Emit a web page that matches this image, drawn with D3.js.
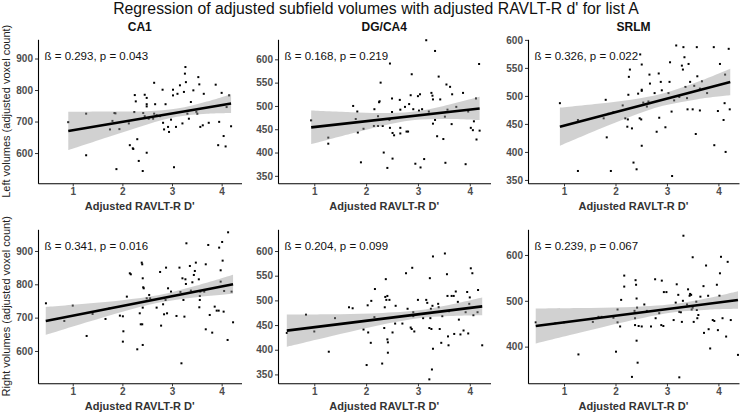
<!DOCTYPE html>
<html><head><meta charset="utf-8">
<script src="https://cdn.jsdelivr.net/npm/d3@7"></script>
<style>
body{margin:0;background:#fff;}
svg text{font-family:"Liberation Sans",Arial,sans-serif;}
</style></head>
<body><svg id="chart" width="741" height="415"></svg>
<script>
// ---------- data ----------
const mainTitle = "Regression of adjusted subfield volumes with adjusted RAVLT-R d' for list A";
const colTitles = ["CA1", "DG/CA4", "SRLM"];
const rowTitles = ["Left volumes (adjusted voxel count)", "Right volumes (adjusted voxel count)"];
const xTitle = "Adjusted RAVLT-R D'";
const xTicks = [1, 2, 3, 4];
const xDomain = [0.3, 4.4];
const statLabels = [
  "ß = 0.293, p = 0.043", "ß = 0.168, p = 0.219", "ß = 0.326, p = 0.022",
  "ß = 0.341, p = 0.016", "ß = 0.204, p = 0.099", "ß = 0.239, p = 0.067"
];
const yTicksList = [
  [600, 700, 800, 900], [350, 400, 450, 500, 550, 600], [350, 400, 450, 500, 550, 600],
  [600, 700, 800, 900], [350, 400, 450, 500, 550, 600], [400, 500, 600]
];
const yDomains = [[504, 961], [334, 643], [344, 601], [503, 965], [332, 644], [320, 656]];

const ca1Left = [[0.91,698],[1.27,725],[1.27,593],[1.75,675],[1.80,702],[1.84,727],[1.86,726],[1.88,549],[1.94,676],[2.13,694],[2.15,625],[2.21,615],[2.22,613],[2.24,730],[2.25,784],[2.27,764],[2.30,644],[2.33,575],[2.41,543],[2.42,727],[2.45,785],[2.49,775],[2.49,755],[2.49,748],[2.45,717],[2.49,601],[2.53,709],[2.64,823],[2.62,709],[2.64,725],[2.66,755],[2.69,720],[2.76,717],[2.81,801],[2.82,696],[2.84,675],[2.87,755],[2.92,683],[2.94,667],[2.98,706],[3.02,783],[3.02,801],[3.04,555],[3.08,683],[3.11,788],[3.16,815],[3.21,694],[3.24,794],[3.26,852],[3.28,825],[3.27,873],[3.31,725],[3.34,709],[3.38,762],[3.43,799],[3.49,731],[3.51,725],[3.53,841],[3.55,818],[3.57,683],[3.62,688],[3.64,788],[3.74,696],[3.88,817],[3.93,625],[3.95,699],[4.00,791],[4.04,654],[4.08,621],[4.10,746],[4.15,783],[4.19,685]];
const dgLeft = [[0.94,469],[1.27,432],[1.27,419],[1.75,500],[1.80,472],[1.83,488],[1.84,443],[1.90,379],[1.95,451],[2.16,493],[2.15,457],[2.23,478],[2.23,457],[2.25,508],[2.26,510],[2.28,550],[2.32,457],[2.34,400],[2.41,367],[2.45,470],[2.46,591],[2.46,453],[2.50,516],[2.50,487],[2.51,442],[2.51,387],[2.54,437],[2.65,513],[2.66,492],[2.66,453],[2.66,441],[2.75,498],[2.78,445],[2.81,445],[2.83,504],[2.86,523],[2.88,568],[2.91,493],[2.95,376],[3.00,521],[3.02,490],[3.04,525],[3.05,368],[3.08,493],[3.12,386],[3.16,641],[3.21,488],[3.26,528],[3.28,522],[3.29,514],[3.29,462],[3.33,618],[3.33,470],[3.37,435],[3.40,563],[3.43,514],[3.49,429],[3.52,477],[3.53,378],[3.55,546],[3.57,492],[3.62,541],[3.65,461],[3.66,525],[3.74,498],[3.87,528],[3.92,375],[3.97,488],[4.02,453],[4.06,448],[4.08,467],[4.12,516],[4.13,428],[4.18,590],[4.19,447]];
const srlmLeft = [[0.92,487],[1.27,457],[1.27,366],[1.77,460],[1.81,493],[1.83,426],[1.86,468],[1.91,366],[1.96,471],[2.14,483],[2.19,460],[2.23,445],[2.24,458],[2.26,534],[2.28,547],[2.25,502],[2.32,442],[2.35,381],[2.41,369],[2.44,504],[2.47,460],[2.50,458],[2.51,509],[2.51,511],[2.51,556],[2.51,411],[2.54,488],[2.61,481],[2.64,490],[2.66,538],[2.67,522],[2.76,505],[2.80,436],[2.84,540],[2.85,461],[2.88,525],[2.90,510],[2.97,444],[3.03,505],[3.05,525],[3.06,560],[3.09,472],[3.10,357],[3.14,492],[3.18,590],[3.24,498],[3.29,554],[3.31,547],[3.32,587],[3.34,569],[3.36,516],[3.39,496],[3.40,476],[3.42,557],[3.45,525],[3.50,476],[3.53,518],[3.56,432],[3.58,587],[3.59,535],[3.64,474],[3.64,513],[3.68,526],[3.78,505],[3.92,412],[3.91,587],[3.99,473],[4.03,557],[4.10,457],[4.12,487],[4.13,538],[4.14,400],[4.20,584],[4.22,476],[2.48,574]];
const ca1Right = [[0.46,743],[0.83,690],[1.00,736],[1.28,645],[1.40,711],[1.66,696],[1.74,728],[1.95,706],[2.01,704],[2.02,659],[2.01,628],[2.09,763],[2.15,833],[2.17,830],[2.30,605],[2.35,713],[2.37,680],[2.39,865],[2.40,860],[2.41,818],[2.40,680],[2.41,618],[2.42,791],[2.43,788],[2.41,730],[2.49,758],[2.54,768],[2.56,758],[2.69,730],[2.76,837],[2.78,676],[2.82,740],[2.84,710],[2.87,753],[2.88,850],[2.90,713],[2.92,788],[2.98,778],[3.09,705],[3.15,850],[3.17,777],[3.19,563],[3.21,818],[3.23,753],[3.25,703],[3.27,815],[3.28,801],[3.29,923],[3.36,855],[3.38,781],[3.41,806],[3.44,828],[3.46,840],[3.48,865],[3.54,815],[3.55,731],[3.56,753],[3.56,765],[3.57,778],[3.65,778],[3.68,860],[3.68,665],[3.73,918],[3.76,708],[3.81,655],[3.86,733],[3.90,721],[3.94,721],[3.95,910],[3.98,808],[3.98,842],[4.01,927],[4.02,871],[4.04,718],[4.05,780],[4.12,633],[4.13,956],[4.20,778],[4.23,686]];
const dgRight = [[0.47,434],[0.84,471],[1.00,437],[1.28,396],[1.40,464],[1.67,486],[1.74,484],[1.95,441],[2.01,369],[2.03,490],[2.04,435],[2.09,414],[2.10,499],[2.17,523],[2.16,466],[2.31,372],[2.35,444],[2.36,486],[2.37,507],[2.38,543],[2.39,501],[2.41,509],[2.41,421],[2.42,415],[2.42,394],[2.45,501],[2.51,435],[2.56,453],[2.57,489],[2.70,453],[2.77,555],[2.80,483],[2.86,445],[2.88,442],[2.89,566],[2.91,468],[2.91,476],[2.93,437],[3.00,501],[3.10,464],[3.16,501],[3.18,495],[3.22,444],[3.23,545],[3.24,464],[3.25,483],[3.26,442],[3.29,402],[3.28,489],[3.29,589],[3.27,360],[3.22,340],[3.39,493],[3.40,486],[3.42,442],[3.45,414],[3.47,468],[3.52,595],[3.56,553],[3.57,509],[3.58,427],[3.59,409],[3.60,478],[3.65,509],[3.69,509],[3.70,432],[3.73,518],[3.77,497],[3.79,461],[3.82,431],[3.88,439],[3.92,476],[3.95,517],[3.97,433],[3.99,493],[4.00,506],[4.02,565],[4.05,555],[4.07,470],[4.15,476],[4.16,521],[4.24,409]];
const srlmRight = [[0.45,453],[0.83,451],[1.00,453],[1.28,383],[1.56,454],[1.67,465],[1.73,465],[1.96,463],[2.01,389],[2.04,481],[2.04,453],[2.09,444],[2.11,502],[2.17,531],[2.17,555],[2.32,334],[2.37,478],[2.38,462],[2.38,447],[2.39,545],[2.40,535],[2.41,505],[2.41,413],[2.42,485],[2.43,365],[2.45,445],[2.51,444],[2.56,492],[2.61,478],[2.69,444],[2.77,547],[2.78,462],[2.85,473],[2.89,447],[2.90,544],[2.93,445],[2.94,519],[2.99,519],[3.13,458],[3.17,496],[3.19,536],[3.22,513],[3.24,333],[3.24,476],[3.27,475],[3.29,454],[3.31,500],[3.32,642],[3.39,492],[3.41,525],[3.44,511],[3.45,515],[3.47,513],[3.48,481],[3.50,595],[3.50,485],[3.52,454],[3.57,498],[3.58,480],[3.59,462],[3.61,469],[3.65,509],[3.71,532],[3.72,430],[3.76,577],[3.80,511],[3.81,438],[3.84,396],[3.89,458],[3.92,456],[3.97,535],[3.99,436],[4.02,511],[4.03,560],[4.05,596],[4.08,462],[4.15,422],[4.18,585],[4.24,458],[4.38,382]];

// fitted lines [x, y] at both ends
const ca1LeftFit = [[0.91,670],[4.19,757]];
const dgLeftFit = [[0.94,454],[4.19,494.6]];
const srlmLeftFit = [[0.92,444.8],[4.23,524.8]];
const ca1RightFit = [[0.456,690],[4.23,800]];
const dgRightFit = [[0.47,438.7],[4.24,487.8]];
const srlmRightFit = [[0.45,445],[4.38,501.7]];

// confidence bands [x, low, high]
const ca1LeftBand = [[0.91,609,731],[1.7,650,732],[2.5,691,733],[3.1,715,741],[3.7,724.5,763.5],[4.19,727,787]];
const dgLeftBand = [[0.94,418,490],[1.7,440.4,486.6],[2.3,457.2,484.8],[2.89,469.4,487.4],[3.5,471.9,500.1],[4.19,469.6,519.6]];
const srlmLeftBand = [[0.92,410.8,478.8],[1.7,441.2,486.2],[2.3,463.3,493.1],[2.92,482.2,504.2],[3.6,494.2,525.2],[4.23,501,548.6]];
const ca1RightBand = [[0.456,648,732],[1.3,686.8,742.4],[2.0,717.9,752.3],[2.744,745.7,767.7],[3.5,761.5,796.1],[4.23,771.5,828.5]];
const dgRightBand = [[0.47,406.2,471.2],[1.3,427,472],[2.1,446.3,473.5],[2.975,463.3,479.3],[3.6,468.2,490.6],[4.24,470,505.6]];
const srlmRightBand = [[0.45,407,483],[1.3,430.5,484.1],[2.2,454.5,485.9],[3.137,474.8,492.8],[3.8,480.5,506.1],[4.38,482.4,521]];

const pointSets = [ca1Left, dgLeft, srlmLeft, ca1Right, dgRight, srlmRight];
const fitSets = [ca1LeftFit, dgLeftFit, srlmLeftFit, ca1RightFit, dgRightFit, srlmRightFit];
const bandSets = [ca1LeftBand, dgLeftBand, srlmLeftBand, ca1RightBand, dgRightBand, srlmRightBand];

// ---------- layout ----------
const svg = d3.select("#chart");
const colX = [[38, 241.5], [278, 490.5], [528, 739]];
const rowY = [[39.3, 183.3], [229.3, 383.3]];
const font = '"Liberation Sans",Arial,sans-serif';

svg.append("text").attr("x", 376).attr("y", 13.5).attr("text-anchor", "middle")
  .attr("font-size", 15.8).attr("fill", "#111").text(mainTitle);

colTitles.forEach((t, c) => {
  svg.append("text").attr("x", (colX[c][0] + colX[c][1]) / 2).attr("y", 31)
    .attr("text-anchor", "middle").attr("font-size", 12).attr("font-weight", "bold")
    .attr("fill", "#111").text(t);
});

rowTitles.forEach((t, r) => {
  const cy = (rowY[r][0] + rowY[r][1]) / 2;
  svg.append("text").attr("transform", `translate(10,${cy}) rotate(-90)`)
    .attr("text-anchor", "middle").attr("font-size", 11).attr("fill", "#222").text(t);
});

for (let i = 0; i < 6; i++) {
  const r = Math.floor(i / 3), c = i % 3;
  const [x0, x1] = colX[c], [y0, y1] = rowY[r];
  const x = d3.scaleLinear().domain(xDomain).range([x0, x1]);
  const y = d3.scaleLinear().domain(yDomains[i]).range([y1, y0]);
  const g = svg.append("g");

  // points
  g.selectAll("rect.pt").data(pointSets[i]).join("rect").attr("class", "pt")
    .attr("x", d => x(d[0]) - 1).attr("y", d => y(d[1]) - 1)
    .attr("width", 2).attr("height", 2).attr("fill", "#000");

  // band
  const area = d3.area().x(d => x(d[0])).y0(d => y(d[1])).y1(d => y(d[2]))
    .curve(d3.curveCatmullRom);
  g.append("path").attr("d", area(bandSets[i])).attr("fill", "#999").attr("fill-opacity", 0.45);

  // fit line
  const line = d3.line().x(d => x(d[0])).y(d => y(d[1]));
  g.append("path").attr("d", line(fitSets[i])).attr("stroke", "#000")
    .attr("stroke-width", 2.6).attr("fill", "none");

  // axes
  const xa = g.append("g").attr("transform", `translate(0,${y1})`)
    .call(d3.axisBottom(x).tickValues(xTicks).tickFormat(d3.format("d"))
      .tickSize(3).tickPadding(2).tickSizeOuter(0));
  const ya = g.append("g").attr("transform", `translate(${x0},0)`)
    .call(d3.axisLeft(y).tickValues(yTicksList[i]).tickFormat(d3.format("d"))
      .tickSize(3).tickPadding(2).tickSizeOuter(0));
  [xa, ya].forEach(a => {
    a.select(".domain").attr("stroke", "#000").attr("stroke-width", 1.1);
    a.selectAll(".tick line").attr("stroke", "#333");
    a.selectAll(".tick text").attr("font-family", font).attr("font-size", 10)
      .attr("font-weight", "bold").attr("fill", "#4d4d4d");
  });

  // x title
  svg.append("text").attr("x", (x0 + x1) / 2).attr("y", y1 + 26.5)
    .attr("text-anchor", "middle").attr("font-size", 11).attr("font-weight", "bold")
    .attr("fill", "#333").text(xTitle);

  // stat annotation
  svg.append("text").attr("x", x0 + 6.5).attr("y", y0 + 21)
    .attr("font-size", 11.5).attr("fill", "#111").text(statLabels[i]);
}
</script></body></html>
